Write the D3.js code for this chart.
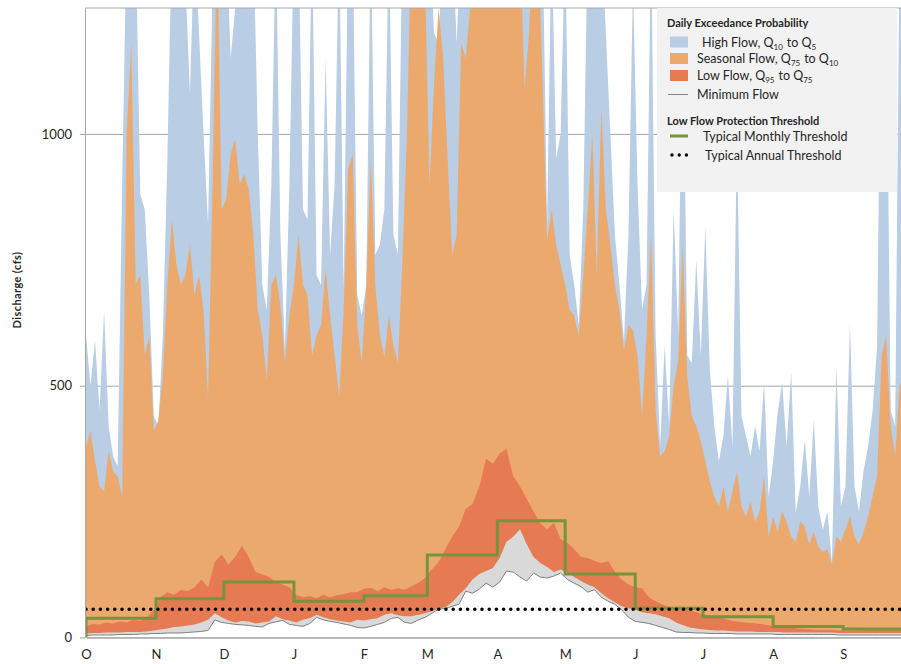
<!DOCTYPE html>
<html>
<head>
<meta charset="utf-8">
<script src="https://cdnjs.cloudflare.com/ajax/libs/d3/7.8.5/d3.min.js"></script>
<style>
    body { margin: 0; background: #fff; }
    svg { display: block; font-family: Lato, "Open Sans", "Liberation Sans", sans-serif; }
</style>
</head>
<body>
<svg id="chart" width="901" height="664"></svg>
<script>
// ---------------------------------------------------------
// 1. DATA  (water year, day 0 = 1 October)
// ---------------------------------------------------------

const monthLabels = ["O", "N", "D", "J", "F", "M", "A", "M", "J", "J", "A", "S"];
const monthStartDays = [0, 31, 61, 92, 123, 151, 182, 212, 243, 273, 304, 335];
const monthlyThreshold = [38, 77, 110, 72, 83, 164, 232, 126, 58, 41, 22, 17];
const annualThreshold = 56;
const yTicks = [0, 500, 1000];

// Q5 and Q10, one value every 2 days
const upperStep = 2;
const highFlowQ5 = [
    600, 500, 590, 450, 650, 420, 360, 340, 900, 1400,
    1400, 1400, 880, 850, 680, 440, 420, 600, 950, 1400,
    1400, 1400, 1300, 1080, 1400, 1200, 1000, 820, 1300, 1400,
    1300, 1400, 1150, 1250, 1400, 1400, 1300, 1400, 1000, 700,
    650, 900, 1400, 800, 570, 900, 1400, 1400, 850, 830,
    1400, 720, 700, 1150, 760, 900, 1400, 690, 1400, 1400,
    680, 640, 700, 1400, 760, 780, 850, 1400, 800, 760,
    1400, 1400, 1400, 1400, 1400, 1400, 1400, 1200, 1180, 1400,
    1400, 1400, 1180, 1400, 1400, 1400, 1400, 1400, 1400, 1400,
    1400, 1400, 1400, 1400, 1400, 1400, 1400, 1400, 1400, 1400,
    1400, 1400, 820, 1400, 950, 1000, 1400, 760, 700, 620,
    850, 1400, 1400, 1400, 1400, 1200, 1000, 800, 700, 590,
    800, 1300, 900, 651, 700, 1400, 600, 380, 580, 420,
    850, 600, 1300, 560, 545, 750, 560, 816, 530, 420,
    350, 400, 520, 380, 1000, 440, 400, 360, 420, 370,
    506, 280, 350, 446, 506, 380, 526, 248, 300, 393,
    280, 432, 260, 214, 250, 150, 538, 260, 300, 625,
    300, 250, 330, 380, 450, 578, 1400, 1300, 450, 420,
    1400, 1400, 1000
];
const seasonalQ10 = [
    380, 410, 350, 300, 290, 370, 330, 320, 280, 1000,
    1180, 700, 720, 560, 600, 410, 430, 520, 700, 830,
    740, 700, 720, 780, 680, 720, 650, 475, 900, 1400,
    850, 870, 960, 990, 900, 920, 890, 800, 650, 600,
    510, 700, 720, 660, 545, 640, 700, 800, 700, 680,
    560, 600, 620, 730, 640, 560, 478, 650, 930, 960,
    620, 545, 700, 950, 700, 600, 557, 640, 580, 545,
    750, 1000, 1400, 1400, 1400, 1300, 900, 1100, 1250, 1150,
    950, 760, 800, 1180, 1150, 1250, 1400, 1400, 1400, 1400,
    1400, 1400, 1400, 1400, 1400, 1400, 1400, 1090, 1200, 1400,
    1400, 1100, 790, 850, 780, 740, 700, 650, 640, 597,
    720, 850, 1000, 720, 1050, 850, 780, 700, 650, 570,
    620, 610, 560, 440, 600, 800, 450, 360, 370, 400,
    500, 550, 780, 520, 440, 420, 390, 350, 310, 280,
    260, 300, 250, 290, 330, 260, 240, 270, 230, 250,
    320, 200, 240, 210, 250, 230, 200, 190, 230, 220,
    185, 210, 180, 170, 175, 145, 200, 190, 215, 240,
    200, 185, 210, 240, 280, 320, 560, 600, 420, 360,
    500, 520, 450
];

// Q75, Q95 and minimum, one value every 3 days
const lowerStep = 3;
const lowFlowQ75 = [
    22, 27, 26, 30, 28, 32, 30, 35, 33, 40,
    55, 80, 90, 85, 95, 92, 100, 115, 100, 150,
    165, 145, 160, 182, 160, 130, 125, 120, 110, 105,
    100, 85, 80, 82, 78, 85, 80, 84, 86, 90,
    90, 97, 99, 92, 100, 95, 98, 95, 102, 108,
    118, 135, 150, 175, 200, 220, 255, 265, 300, 355,
    345, 365, 375, 320, 300, 275, 250, 227, 215, 228,
    195, 188, 175, 160, 158, 152, 148, 152, 130, 115,
    105, 100, 98, 80, 72, 65, 60, 58, 56, 54,
    50, 46, 43, 40, 38, 34, 32, 30, 29, 28,
    26, 24, 22, 20, 20, 18, 17, 16, 15, 15,
    15, 14, 14, 14, 14, 15, 15, 15, 16, 16,
    16, 16
];
const q95 = [
    8, 9, 9, 10, 10, 10, 11, 11, 11, 12,
    14, 16, 18, 21, 22, 24, 26, 30, 35, 48,
    40, 34, 30, 33, 32, 28, 30, 32, 42, 36,
    34, 30, 35, 38, 45, 40, 36, 34, 32, 30,
    35, 34, 36, 38, 45, 48, 44, 42, 42, 45,
    48, 52, 57, 60, 70, 85, 98, 115, 126, 132,
    138, 158, 190, 200, 215, 185, 160, 148, 140, 130,
    135, 128, 120, 112, 105, 100, 88, 78, 70, 62,
    58, 55, 50, 48, 46, 42, 38, 30, 25, 20,
    18, 16, 15, 14, 14, 13, 12, 12, 12, 11,
    11, 11, 11, 10, 10, 10, 10, 10, 10, 10,
    10, 9, 9, 9, 9, 9, 9, 9, 9, 9,
    9, 9
];
const minimumFlow = [
    4, 5, 5, 5, 5, 6, 6, 6, 7, 7,
    8, 8, 9, 9, 9, 10, 11, 12, 14, 35,
    30, 28, 26, 25, 24, 22, 21, 28, 31, 34,
    26, 24, 22, 28, 40, 35, 32, 30, 27, 24,
    20, 19, 22, 26, 30, 38, 40, 30, 28, 35,
    40, 48, 56, 58, 62, 66, 92, 88, 96, 108,
    100, 110, 132, 130, 120, 112, 128, 120, 118, 122,
    128, 115, 108, 101, 90, 95, 80, 72, 66, 55,
    40, 32, 30, 28, 24, 20, 16, 11, 10, 10,
    9, 9, 8, 8, 8, 8, 7, 7, 7, 7,
    7, 7, 6, 6, 6, 6, 6, 6, 6, 6,
    6, 5, 5, 5, 5, 5, 5, 5, 5, 5,
    5, 5
];

// ---------------------------------------------------------
// 2. SETUP
// ---------------------------------------------------------
const colors = {
    high: "#b9cde5",
    seasonal: "#eba96e",
    low: "#e67a52",
    q95: "#d9d9d9",
    minLine: "#7f7f7f",
    monthly: "#77933c",
    grid: "#a6a6a6",
    text: "#262626"
};

const plotLeft = 85;
const plotTop = 8;
const x = d3.scaleLinear().domain([0, 365]).range([86, 911]);
const y = d3.scaleLinear().domain([0, 1250]).range([637.5, plotTop]);

const svg = d3.select("#chart");

svg.append("defs").append("clipPath")
    .attr("id", "plot-clip")
    .append("rect")
    .attr("x", plotLeft)
    .attr("y", plotTop)
    .attr("width", 901 - plotLeft)
    .attr("height", y(0) - plotTop);

// gridlines behind everything
svg.append("g")
    .attr("transform", `translate(${plotLeft},0)`)
    .call(d3.axisLeft(y).tickValues([500, 1000]).tickSize(-(911 - plotLeft)).tickFormat(""))
    .call(g => g.select(".domain").remove())
    .call(g => g.selectAll("line").attr("stroke", colors.grid));

// ---------------------------------------------------------
// 3. AREAS
// ---------------------------------------------------------
function areaFor(step) {
    return d3.area()
        .x((d, i) => x(i * step))
        .y0(y(0))
        .y1(d => y(d));
}

const plot = svg.append("g").attr("clip-path", "url(#plot-clip)");

const layers = [
    { values: highFlowQ5, step: upperStep, fill: colors.high },
    { values: seasonalQ10, step: upperStep, fill: colors.seasonal },
    { values: lowFlowQ75, step: lowerStep, fill: colors.low },
    { values: q95, step: lowerStep, fill: colors.q95 },
    { values: minimumFlow, step: lowerStep, fill: "#ffffff" }
];

layers.forEach(layer => {
    plot.append("path")
        .datum(layer.values)
        .attr("fill", layer.fill)
        .attr("d", areaFor(layer.step));
});

plot.append("path")
    .datum(minimumFlow)
    .attr("fill", "none")
    .attr("stroke", colors.minLine)
    .attr("stroke-width", 1)
    .attr("d", d3.line().x((d, i) => x(i * lowerStep)).y(d => y(d)));

// monthly threshold step line (rises from zero at the start)
const stepPoints = [{ day: 0, value: 0 }]
    .concat(monthStartDays.map((day, i) => ({ day: day, value: monthlyThreshold[i] })))
    .concat([{ day: 365, value: monthlyThreshold[monthlyThreshold.length - 1] }]);

plot.append("path")
    .datum(stepPoints)
    .attr("fill", "none")
    .attr("stroke", colors.monthly)
    .attr("stroke-width", 3)
    .attr("d", d3.line().curve(d3.curveStepAfter).x(d => x(d.day)).y(d => y(d.value)));

// annual threshold dotted line
plot.append("path")
    .datum(x.domain())
    .attr("fill", "none")
    .attr("stroke", "#000")
    .attr("stroke-width", 3.6)
    .attr("stroke-linecap", "round")
    .attr("stroke-dasharray", "0 7.2")
    .attr("d", d3.line().x(d => x(d)).y(() => y(annualThreshold)));

// ---------------------------------------------------------
// 4. AXES
// ---------------------------------------------------------
svg.append("line")
    .attr("x1", plotLeft).attr("x2", 911)
    .attr("y1", plotTop).attr("y2", plotTop)
    .attr("stroke", colors.grid);

svg.append("g")
    .attr("transform", `translate(${plotLeft},0)`)
    .call(d3.axisLeft(y).tickValues(yTicks).tickFormat(d3.format("d"))
        .tickSize(5).tickSizeOuter(0).tickPadding(8))
    .call(g => g.select(".domain").attr("stroke", colors.grid))
    .call(g => g.selectAll(".tick line").attr("stroke", colors.grid))
    .call(g => g.selectAll(".tick text")
        .attr("fill", colors.text)
        .style("font-size", "13px")
        .style("font-family", "Lato, sans-serif"));

svg.append("g")
    .attr("transform", `translate(0,${y(0)})`)
    .call(d3.axisBottom(x)
        .tickValues(monthStartDays)
        .tickFormat((d, i) => monthLabels[i])
        .tickSizeInner(0).tickSizeOuter(0).tickPadding(12))
    .call(g => g.select(".domain").attr("stroke", colors.grid).attr("stroke-width", 1.5))
    .call(g => g.selectAll(".tick text")
        .attr("fill", colors.text)
        .style("font-size", "13px")
        .style("font-family", "Lato, sans-serif"));

svg.append("text")
    .attr("transform", "translate(21,290) rotate(-90)")
    .attr("text-anchor", "middle")
    .attr("fill", colors.text)
    .style("font-size", "11px")
    .style("font-weight", "bold")
    .style("letter-spacing", "0.4px")
    .text("Discharge (cfs)");

// ---------------------------------------------------------
// 5. LEGEND
// ---------------------------------------------------------
const legend = svg.append("g");

legend.append("rect")
    .attr("x", 657).attr("y", plotTop)
    .attr("width", 240).attr("height", 184)
    .attr("fill", "#f2f2f2");

// text like "Q{10}" gets a subscript
function richText(sel, str) {
    str.split(/(\{[^}]*\})/).filter(s => s.length).forEach(part => {
        if (part[0] === "{") {
            sel.append("tspan").attr("dy", 3).style("font-size", "8px").text(part.slice(1, -1));
            sel.append("tspan").attr("dy", -3).text("\u200a");
        } else {
            sel.append("tspan").text(part);
        }
    });
}

function heading(label, yPos) {
    legend.append("text")
        .attr("x", 667).attr("y", yPos)
        .attr("fill", colors.text)
        .style("font-size", "11px")
        .style("font-weight", "bold")
        .text(label);
}

heading("Daily Exceedance Probability", 27);
heading("Low Flow Protection Threshold", 124.5);

const legendItems = [
    { label: "High Flow, Q{10} to Q{5}", kind: "box", color: colors.high, y: 42, tx: 702 },
    { label: "Seasonal Flow, Q{75} to Q{10}", kind: "box", color: colors.seasonal, y: 58.5, tx: 697 },
    { label: "Low Flow, Q{95} to Q{75}", kind: "box", color: colors.low, y: 75.5, tx: 697 },
    { label: "Minimum Flow", kind: "line", color: colors.minLine, y: 94.5, tx: 697 },
    { label: "Typical Monthly Threshold", kind: "thick", color: colors.monthly, y: 136, tx: 703 },
    { label: "Typical Annual Threshold", kind: "dots", color: "#000", y: 155, tx: 705 }
];

legendItems.forEach(item => {
    if (item.kind === "box") {
        legend.append("rect")
            .attr("x", 670).attr("y", item.y - 5.5)
            .attr("width", 18).attr("height", 11)
            .attr("fill", item.color);
    } else if (item.kind === "line") {
        legend.append("line")
            .attr("x1", 668).attr("x2", 688).attr("y1", item.y).attr("y2", item.y)
            .attr("stroke", item.color).attr("stroke-width", 1);
    } else if (item.kind === "thick") {
        legend.append("line")
            .attr("x1", 670).attr("x2", 688).attr("y1", item.y).attr("y2", item.y)
            .attr("stroke", item.color).attr("stroke-width", 3);
    } else {
        legend.append("line")
            .attr("x1", 672).attr("x2", 687).attr("y1", item.y).attr("y2", item.y)
            .attr("stroke", item.color).attr("stroke-width", 3.4)
            .attr("stroke-linecap", "round")
            .attr("stroke-dasharray", "0 7.2");
    }
    const t = legend.append("text")
        .attr("x", item.tx).attr("y", item.y + 4.5)
        .attr("fill", colors.text)
        .style("font-size", "12.5px");
    richText(t, item.label);
});
</script>
</body>
</html>
